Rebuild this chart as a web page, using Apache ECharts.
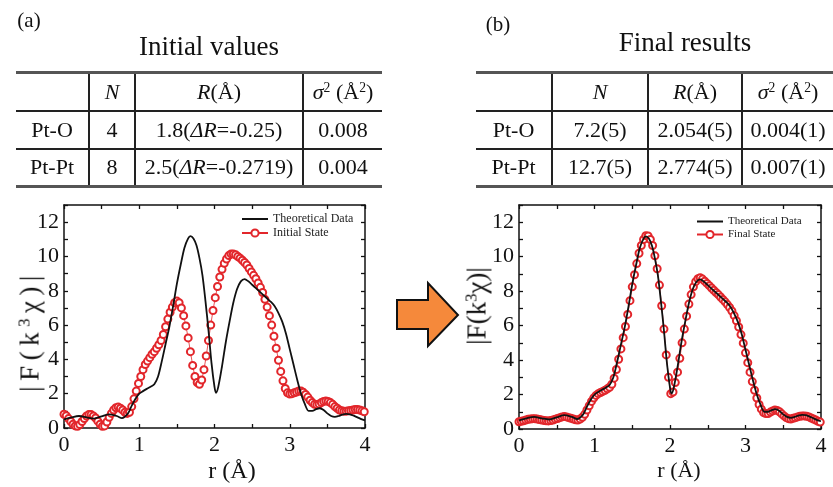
<!DOCTYPE html>
<html>
<head>
<meta charset="utf-8">
<script src="https://cdn.jsdelivr.net/npm/echarts@6/dist/echarts.min.js"></script>
<style>
  html, body { margin: 0; padding: 0; background: #fff; }
  #wrap { position: relative; width: 833px; height: 487px; overflow: hidden; font-family: "Liberation Serif", serif; color: #111; }
  #chart { position: absolute; left: 0; top: 0; width: 833px; height: 487px; }
  .txt { position: absolute; white-space: nowrap; transform: translate(-50%, -50%); }
  .tbl { position: absolute; border-collapse: collapse; table-layout: fixed; font-size: 22px; }
  .tbl td { text-align: center; padding: 0; border-left: 2px solid #222; border-top: 2px solid #222; }
  .tbl td:first-child { border-left: none; }
  .tbl tr:first-child td { border-top: 3px solid #555; }
  .tbl tr:last-child td { border-bottom: 3px solid #555; }
  .ylab { position: absolute; white-space: nowrap; transform: translate(-50%, -50%) rotate(-90deg); font-size: 27px; }
  sup { font-size: 0.62em; vertical-align: 0.55em; line-height: 0; }
</style>
</head>
<body>
<div id="wrap">
  <div id="chart"></div>
</div>
<script>
// ---- table data ----
const tableHead = ['', '<i>N</i>', '<i>R</i>(Å)', '<i>σ</i><sup>2</sup> (Å<sup>2</sup>)'];
const initialRows = [
  ['Pt-O', '4', '1.8(<i>ΔR</i>=-0.25)', '0.008'],
  ['Pt-Pt', '8', '2.5(<i>ΔR</i>=-0.2719)', '0.004']
];
const finalRows = [
  ['Pt-O', '7.2(5)', '2.054(5)', '0.004(1)'],
  ['Pt-Pt', '12.7(5)', '2.774(5)', '0.007(1)']
];

// ---- curve data ----
// theoretical |F(k3 chi)| : r, value
const theoryR = [0.00, 0.10, 0.20, 0.30, 0.40, 0.50, 0.60, 0.70, 0.77, 0.85, 0.90, 0.95, 1.00, 1.05, 1.10, 1.15, 1.20, 1.25,
  1.30, 1.35, 1.40, 1.45, 1.50, 1.55, 1.60, 1.65, 1.68, 1.72, 1.76, 1.80, 1.84, 1.88, 1.92, 1.96, 2.00, 2.02, 2.05,
  2.10, 2.15, 2.20, 2.25, 2.30, 2.35, 2.40, 2.45, 2.50, 2.55, 2.60, 2.65, 2.70, 2.75, 2.80, 2.85, 2.90, 2.95, 3.00,
  3.05, 3.10, 3.15, 3.20, 3.25, 3.30, 3.35, 3.40, 3.45, 3.50, 3.55, 3.60, 3.65, 3.70, 3.75, 3.80, 3.85, 3.90, 3.95, 4.00];
const theoryV = [0.50, 0.62, 0.70, 0.62, 0.55, 0.68, 0.80, 0.70, 0.58, 0.85, 1.30, 1.70, 2.00, 2.15, 2.28, 2.40, 2.55, 3.00,
  3.90, 4.90, 5.90, 7.10, 8.40, 9.50, 10.50, 11.05, 11.18, 11.05, 10.65, 9.90, 8.90, 7.40, 5.70, 3.80, 2.40, 2.05, 2.40,
  3.60, 5.00, 6.20, 7.30, 8.10, 8.55, 8.68, 8.55, 8.35, 8.15, 7.95, 7.75, 7.55, 7.35, 7.10, 6.70, 6.20, 5.50, 4.60,
  3.70, 2.80, 2.00, 1.40, 1.00, 1.00, 1.10, 1.15, 1.05, 0.85, 0.70, 0.65, 0.70, 0.78, 0.82, 0.80, 0.72, 0.62, 0.52, 0.45];

// circle series sampled every 0.03 Å from r = 0
const rStep = 0.03;
const initialV = [
  0.80, 0.72, 0.55, 0.38, 0.22, 0.12, 0.10, 0.20, 0.38, 0.55, 0.70, 0.78, 0.78, 0.70, 0.58, 0.40, 0.22, 0.10, 0.12, 0.35,
  0.62, 0.85, 1.05, 1.18, 1.22, 1.15, 1.05, 0.92, 0.85, 0.92, 1.25, 1.70, 2.15, 2.60, 3.00, 3.40, 3.70, 3.90, 4.10, 4.30,
  4.45, 4.65, 4.85, 5.10, 5.45, 5.90, 6.35, 6.75, 7.05, 7.30, 7.40, 7.30, 7.00, 6.55, 5.95, 5.25, 4.45, 3.65, 3.00, 2.65,
  2.55, 2.80, 3.40, 4.20, 5.10, 6.00, 6.85, 7.60, 8.25, 8.80, 9.25, 9.60, 9.85, 10.05, 10.15, 10.15, 10.10, 10.00, 9.90, 9.78,
  9.65, 9.50, 9.30, 9.10, 8.90, 8.70, 8.45, 8.20, 7.90, 7.50, 7.05, 6.55, 6.00, 5.35, 4.65, 3.95, 3.30, 2.75, 2.30, 2.05,
  1.98, 2.00, 2.05, 2.10, 2.15, 2.15, 2.08, 1.95, 1.80, 1.62, 1.48, 1.38, 1.35, 1.40, 1.48, 1.55, 1.58, 1.55, 1.48, 1.38,
  1.25, 1.15, 1.05, 1.00, 0.98, 0.98, 1.00, 1.02, 1.05, 1.08, 1.08, 1.05, 1.00, 0.95
];
const finalV = [
  0.42, 0.45, 0.48, 0.52, 0.56, 0.58, 0.60, 0.60, 0.58, 0.55, 0.52, 0.50, 0.48, 0.47, 0.49, 0.52, 0.57, 0.61, 0.66, 0.70,
  0.72, 0.70, 0.66, 0.62, 0.58, 0.53, 0.52, 0.58, 0.68, 0.85, 1.10, 1.35, 1.60, 1.80, 1.95, 2.05, 2.12, 2.18, 2.25, 2.33,
  2.42, 2.60, 2.95, 3.45, 4.05, 4.65, 5.30, 5.95, 6.65, 7.45, 8.25, 8.95, 9.60, 10.20, 10.65, 11.00, 11.22, 11.20, 11.00, 10.65,
  10.05, 9.30, 8.35, 7.15, 5.80, 4.30, 3.00, 2.05, 2.15, 2.70, 3.30, 4.10, 5.00, 5.80, 6.55, 7.25, 7.80, 8.25, 8.55, 8.72,
  8.78, 8.70, 8.58, 8.45, 8.32, 8.18, 8.05, 7.92, 7.80, 7.66, 7.52, 7.38, 7.22, 7.05, 6.85, 6.58, 6.28, 5.92, 5.48, 4.98,
  4.42, 3.85, 3.30, 2.75, 2.25, 1.80, 1.42, 1.15, 0.95, 0.90, 0.90, 0.98, 1.05, 1.10, 1.08, 1.00, 0.88, 0.76, 0.66, 0.60,
  0.58, 0.62, 0.66, 0.70, 0.74, 0.76, 0.76, 0.74, 0.70, 0.64, 0.58, 0.52, 0.45, 0.40
];

const xTicks = [0, 1, 2, 3, 4];
const yTicks = [0, 2, 4, 6, 8, 10, 12];

// ---- html parts ----
const wrap = document.getElementById('wrap');

function addText(html, x, y, size, extra) {
  const d = document.createElement('div');
  d.className = 'txt';
  d.style.left = x + 'px';
  d.style.top = y + 'px';
  d.style.fontSize = size + 'px';
  if (extra) d.style.cssText += extra;
  d.innerHTML = html;
  wrap.appendChild(d);
}

function addTable(rows, left, widths) {
  const t = document.createElement('table');
  t.className = 'tbl';
  t.style.left = left + 'px';
  t.style.top = '71px';
  let html = '<colgroup>' + widths.map(w => '<col style="width:' + w + 'px">').join('') + '</colgroup>';
  const heights = [38, 38, 38];
  [tableHead].concat(rows).forEach((r, i) => {
    html += '<tr style="height:' + heights[i] + 'px">' + r.map(c => '<td>' + c + '</td>').join('') + '</tr>';
  });
  t.innerHTML = html;
  wrap.appendChild(t);
}

function addYName(x, y, spacing) {
  const d = document.createElement('div');
  d.className = 'ylab';
  d.style.left = x + 'px';
  d.style.top = y + 'px';
  d.style.letterSpacing = spacing + 'px';
  d.innerHTML = '|F(k<sup>3</sup>χ)|';
  wrap.appendChild(d);
}

addText('(a)', 29, 20, 21);
addText('(b)', 498, 24, 21);
addText('Initial values', 209, 46, 27);
addText('Final results', 685, 42, 27);
addTable(initialRows, 16, [73, 46, 168, 79]);
addTable(finalRows, 476, [76, 96, 94, 91]);

addText('r (Å)', 232, 470, 24);
addText('r (Å)', 679, 470, 22);
addYName(30, 331, 5.5);
addYName(477, 306, 0);

// ---- chart ----
const chart = echarts.init(document.getElementById('chart'));
const font = 'Liberation Serif';
const red = '#e2262b';

const theoryData = theoryR.map((r, i) => [r, theoryV[i]]);
const initialData = initialV.map((v, i) => [+(i * rStep).toFixed(2), v]);
const finalData = finalV.map((v, i) => [+(i * rStep).toFixed(2), v]);

function xAxes(gi) {
  const base = {
    type: 'value', gridIndex: gi, min: 0, max: 4, interval: 0.5,
    axisLine: { onZero: false, lineStyle: { color: '#111', width: 1.5 } },
    axisTick: { inside: true, length: 4, lineStyle: { color: '#111', width: 1.3 } },
    splitLine: { show: false }
  };
  return [
    Object.assign({}, base, {
      position: 'bottom',
      axisLabel: {
        fontFamily: font, fontSize: 22, color: '#111', margin: 6,
        formatter: v => (xTicks.indexOf(v) >= 0 ? String(v) : '')
      }
    }),
    Object.assign({}, base, { position: 'top', axisLabel: { show: false } })
  ];
}

function yAxes(gi) {
  const base = {
    type: 'value', gridIndex: gi, min: 0, max: 13, interval: 1,
    axisLine: { show: true, onZero: false, lineStyle: { color: '#111', width: 1.5 } },
    axisTick: { show: true, inside: true, length: 4, lineStyle: { color: '#111', width: 1.3 } },
    splitLine: { show: false }
  };
  return [
    Object.assign({}, base, {
      position: 'left',
      axisLabel: {
        fontFamily: font, fontSize: 22, color: '#111', margin: 5,
        formatter: v => (yTicks.indexOf(v) >= 0 ? String(v) : '')
      }
    }),
    Object.assign({}, base, { position: 'right', axisLabel: { show: false } })
  ];
}

function circles(name, data, xi, yi) {
  return {
    name: name, type: 'line', xAxisIndex: xi, yAxisIndex: yi, data: data,
    symbol: 'emptyCircle', symbolSize: 7, showAllSymbol: true,
    itemStyle: { color: red, borderColor: red, borderWidth: 1.3 },
    lineStyle: { color: red, width: 0.8 },
    z: 2, animation: false
  };
}

function theory(xi, yi) {
  return {
    name: 'Theoretical Data', type: 'line', xAxisIndex: xi, yAxisIndex: yi, data: theoryData,
    smooth: 0.3, showSymbol: false, symbol: 'none',
    lineStyle: { color: '#111', width: 1.8 }, itemStyle: { color: '#111' },
    z: 3, animation: false
  };
}

const lineIcon = 'path://M0,0L26,0L26,2L0,2Z';
const legendBase = {
  orient: 'vertical', padding: 0, itemGap: 2, itemWidth: 26, itemHeight: 9,
  textStyle: { fontFamily: font, fontSize: 12, color: '#222' }
};

chart.setOption({
  animation: false,
  grid: [
    { left: 64, top: 205, width: 301, height: 223 },
    { left: 519, top: 205, width: 302, height: 224 }
  ],
  xAxis: xAxes(0).concat(xAxes(1)),
  yAxis: yAxes(0).concat(yAxes(1)),
  legend: [
    Object.assign({}, legendBase, {
      left: 241, top: 213,
      data: [{ name: 'Theoretical Data', icon: lineIcon }, 'Initial State']
    }),
    Object.assign({}, legendBase, {
      left: 696, top: 216,
      textStyle: { fontFamily: font, fontSize: 11, color: '#222' },
      data: [{ name: 'Theoretical Data', icon: lineIcon }, 'Final State']
    })
  ],
  series: [
    circles('Initial State', initialData, 0, 0),
    theory(0, 0),
    circles('Final State', finalData, 2, 2),
    theory(2, 2)
  ],
  graphic: [{
    type: 'polygon',
    shape: { points: [[397, 300], [428, 300], [428, 283], [458, 315], [428, 346], [428, 329], [397, 329]] },
    style: { fill: '#f5893b', stroke: '#111', lineWidth: 2 }
  }]
});
</script>
</body>
</html>
